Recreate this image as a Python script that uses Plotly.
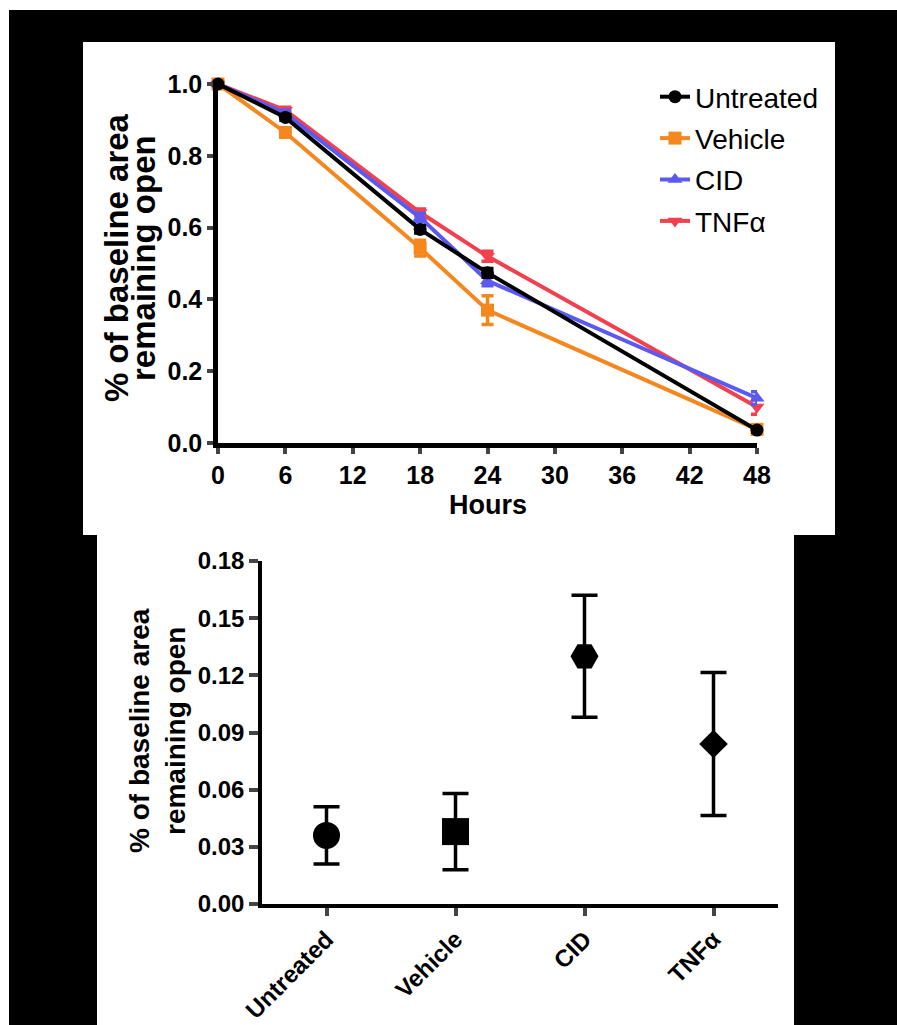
import plotly.graph_objects as go

W, H = 897, 1025

# ---- data: time course ----
hours = [0, 6, 18, 24, 48]
untreated = [1.0, 0.907, 0.595, 0.474, 0.036]
untreated_err = [0.0, 0.008, 0.010, 0.012, 0.006]
vehicle = [1.0, 0.865, 0.543, 0.370, 0.038]
vehicle_err = [0.0, 0.010, 0.022, 0.040, 0.008]
cid = [1.0, 0.918, 0.628, 0.452, 0.125]
cid_err = [0.0, 0.008, 0.012, 0.014, 0.018]
tnfa = [1.0, 0.927, 0.642, 0.520, 0.100]
tnfa_err = [0.0, 0.008, 0.010, 0.014, 0.020]

series_names = ["Untreated", "Vehicle", "CID", "TNFα"]
series_colors = ["#000000", "#F5871F", "#5A5AF2", "#F2404E"]
series_symbols = ["circle", "square", "triangle-up", "triangle-down"]
x_ticks_top = [0, 6, 12, 18, 24, 30, 36, 42, 48]
y_ticks_top = [0.0, 0.2, 0.4, 0.6, 0.8, 1.0]

# ---- data: 48 h summary ----
groups = ["Untreated", "Vehicle", "CID", "TNFα"]
group_mean = [0.036, 0.038, 0.130, 0.084]
group_err = [0.015, 0.020, 0.032, 0.0375]
group_symbols = ["circle", "square", "hexagon2", "diamond"]
group_sizes = [27, 27, 28, 22]
y_ticks_bot = [0.00, 0.03, 0.06, 0.09, 0.12, 0.15, 0.18]

FONT = "Liberation Sans"

fig = go.Figure()

vals = [untreated, vehicle, cid, tnfa]
errs = [untreated_err, vehicle_err, cid_err, tnfa_err]
draw_order = [3, 2, 1, 0]
for i in draw_order:
    fig.add_trace(go.Scatter(
        x=hours, y=vals[i], name=series_names[i], mode="lines+markers",
        line=dict(color=series_colors[i], width=4),
        marker=dict(symbol=series_symbols[i], size=13, color=series_colors[i]),
        error_y=dict(type="data", array=errs[i], color=series_colors[i],
                     thickness=3.5, width=6),
        legendrank=i + 1, legendgroup=series_names[i],
        cliponaxis=False, xaxis="x", yaxis="y",
    ))

fig.add_trace(go.Scatter(
    x=groups, y=group_mean, mode="markers", showlegend=False, opacity=1,
    marker=dict(symbol=group_symbols, size=group_sizes, color="#000000",
                opacity=1, line=dict(width=0)),
    error_y=dict(type="data", array=group_err, color="black",
                 thickness=3.5, width=13),
    cliponaxis=False, xaxis="x2", yaxis="y2",
))

def px_x(p):
    return p / W

def px_y(p):
    return 1 - p / H

shapes = [
    dict(type="rect", xref="paper", yref="paper", x0=px_x(9), x1=1.0,
         y0=0, y1=px_y(10), fillcolor="black", line_width=0, layer="below"),
    dict(type="rect", xref="paper", yref="paper", x0=px_x(83), x1=px_x(835),
         y0=px_y(535), y1=px_y(42), fillcolor="white", line_width=0, layer="below"),
    dict(type="rect", xref="paper", yref="paper", x0=px_x(97), x1=px_x(794),
         y0=0, y1=px_y(535), fillcolor="white", line_width=0, layer="below"),
]

tick_top = dict(family=FONT, size=25, color="black", weight="bold")
tick_bot = dict(family=FONT, size=24, color="black", weight="bold")
tick_bot_x = dict(family=FONT, size=24, color="black", weight="bold")
title_top = dict(family=FONT, size=33, color="black", weight="bold")
title_bot = dict(family=FONT, size=28, color="black", weight="bold")

annotations = [
    dict(text="% of baseline area", x=px_x(116), y=px_y(258), xref="paper", yref="paper",
         textangle=-90, showarrow=False, font=title_top, xanchor="center", yanchor="middle"),
    dict(text="remaining open", x=px_x(143), y=px_y(258), xref="paper", yref="paper",
         textangle=-90, showarrow=False, font=title_top, xanchor="center", yanchor="middle"),
    dict(text="Hours", x=px_x(488), y=px_y(505), xref="paper", yref="paper",
         showarrow=False, font=dict(family=FONT, size=27, color="black", weight="bold"),
         xanchor="center", yanchor="middle"),
    dict(text="% of baseline area", x=px_x(139), y=px_y(731), xref="paper", yref="paper",
         textangle=-90, showarrow=False, font=title_bot, xanchor="center", yanchor="middle"),
    dict(text="remaining open", x=px_x(175), y=px_y(731), xref="paper", yref="paper",
         textangle=-90, showarrow=False, font=title_bot, xanchor="center", yanchor="middle"),
]

axis_common = dict(showline=True, linecolor="black", showgrid=False, zeroline=False,
                   automargin=False, ticks="outside")

fig.update_layout(
    width=W, height=H, autosize=False,
    margin=dict(l=0, r=0, t=0, b=0, pad=0, autoexpand=False),
    paper_bgcolor="white", plot_bgcolor="rgba(0,0,0,0)",
    shapes=shapes, annotations=annotations,
    legend=dict(x=px_x(655), y=px_y(72), xanchor="left", yanchor="top",
                font=dict(family=FONT, size=28, color="black"),
                bgcolor="rgba(0,0,0,0)", itemwidth=30, tracegroupgap=2,
                traceorder="grouped"),
    xaxis=dict(domain=[px_x(218), px_x(757)], range=[0, 48],
               tickvals=x_ticks_top, ticklen=6, tickwidth=4, linewidth=4.5,
               tickfont=tick_top, anchor="y", **axis_common),
    yaxis=dict(domain=[px_y(443), px_y(84)], range=[0, 1.0],
               tickvals=y_ticks_top, tickformat=".1f", ticklen=6, tickwidth=4, linewidth=4.5,
               tickfont=tick_top, anchor="x", **axis_common),
    xaxis2=dict(domain=[px_x(262), px_x(778)], range=[-0.5, 3.5], type="category",
                ticklen=8, tickwidth=3.5, tickangle=-45, linewidth=3.5,
                tickfont=tick_bot_x, anchor="y2", **axis_common),
    yaxis2=dict(domain=[px_y(904), px_y(561)], range=[0, 0.18],
                tickvals=y_ticks_bot, tickformat=".2f", ticklen=9, tickwidth=3.5, linewidth=3.5,
                tickfont=tick_bot, anchor="x2", **axis_common),
)

fig.write_html("out.html", config={"displayModeBar": False},
               post_script="document.body.style.margin='0';")
